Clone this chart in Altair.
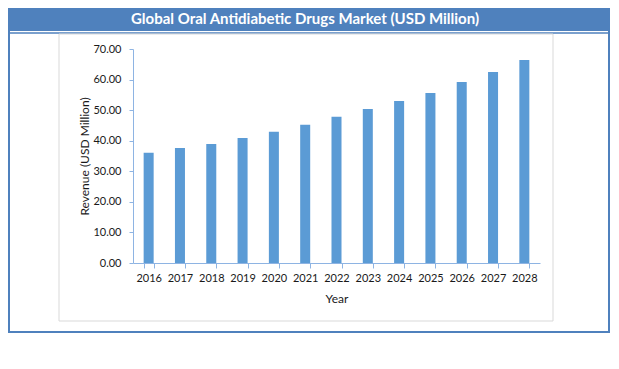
import altair as alt
import pandas as pd

years = ["2016", "2017", "2018", "2019", "2020", "2021", "2022",
         "2023", "2024", "2025", "2026", "2027", "2028"]
revenue = [36.1, 37.6, 38.9, 40.9, 42.9, 45.2, 47.8, 50.4, 53.0, 55.6, 59.2, 62.5, 66.4]
y_ticks = [0, 10, 20, 30, 40, 50, 60, 70]
title_text = "Global Oral Antidiabetic Drugs Market (USD Million)"
x_title = "Year"
y_title = "Revenue (USD Million)"

df = pd.DataFrame({"Year": years, "Revenue": revenue})

FONT = "Lato"
BLUE = "#4F81BD"
BAR = "#5B9BD5"
AXIS = "#8EB4E3"
TXT = "#1a1a1a"

one = alt.Data(values=[{}])

title_bar = alt.Chart(one).mark_rect(color=BLUE).encode(
    x=alt.value(-125), x2=alt.value(476), y=alt.value(-41), y2=alt.value(-18)
)
sep_line = alt.Chart(one).mark_rule(color=BLUE, strokeWidth=1.5).encode(
    x=alt.value(-125), x2=alt.value(476), y=alt.value(-16)
)
frame = alt.Chart(one).mark_rect(fill=None, stroke=BLUE, strokeWidth=2).encode(
    x=alt.value(-124), x2=alt.value(476), y=alt.value(-40), y2=alt.value(283)
)
inner_box = alt.Chart(one).mark_rect(fill=None, stroke="#D9D9D9", strokeWidth=1).encode(
    x=alt.value(-74), x2=alt.value(420), y=alt.value(-15), y2=alt.value(272)
)
title = alt.Chart(one).mark_text(
    font=FONT, fontSize=15, fontWeight="bold", color="white",
    align="center", baseline="middle"
).encode(x=alt.value(172), y=alt.value(-30.5), text=alt.value(title_text))

bars = alt.Chart(df).mark_bar(color=BAR).encode(
    x=alt.X(
        "Year:N", sort=years,
        scale=alt.Scale(paddingInner=0.68, paddingOuter=0.34),
        axis=alt.Axis(
            title=x_title, labelAngle=0, tickBand="extent", tickSize=5,
            labelPadding=4, titlePadding=10, domainColor=AXIS, tickColor=AXIS,
            labelFont=FONT, labelFontSize=11, labelColor=TXT,
            titleFont=FONT, titleFontSize=12, titleFontWeight="normal", titleColor=TXT,
        ),
    ),
    y=alt.Y(
        "Revenue:Q",
        scale=alt.Scale(domain=[0, 70], nice=False),
        axis=alt.Axis(
            title=y_title, values=y_ticks, format=".2f", grid=False, tickSize=4,
            labelPadding=8, titlePadding=1, domainColor=AXIS, tickColor=AXIS,
            labelFont=FONT, labelFontSize=11, labelColor=TXT,
            titleFont=FONT, titleFontSize=12, titleFontWeight="normal", titleColor=TXT,
        ),
    ),
)

chart = alt.layer(title_bar, sep_line, frame, inner_box, bars, title).properties(
    width=407, height=214,
    padding={"left": 125, "top": 41, "right": 71, "bottom": 71},
    autosize=alt.AutoSizeParams(type="none"),
    background="white",
).configure_view(stroke=None)

chart.save("out.html", embed_options={"renderer": "svg", "actions": False})
